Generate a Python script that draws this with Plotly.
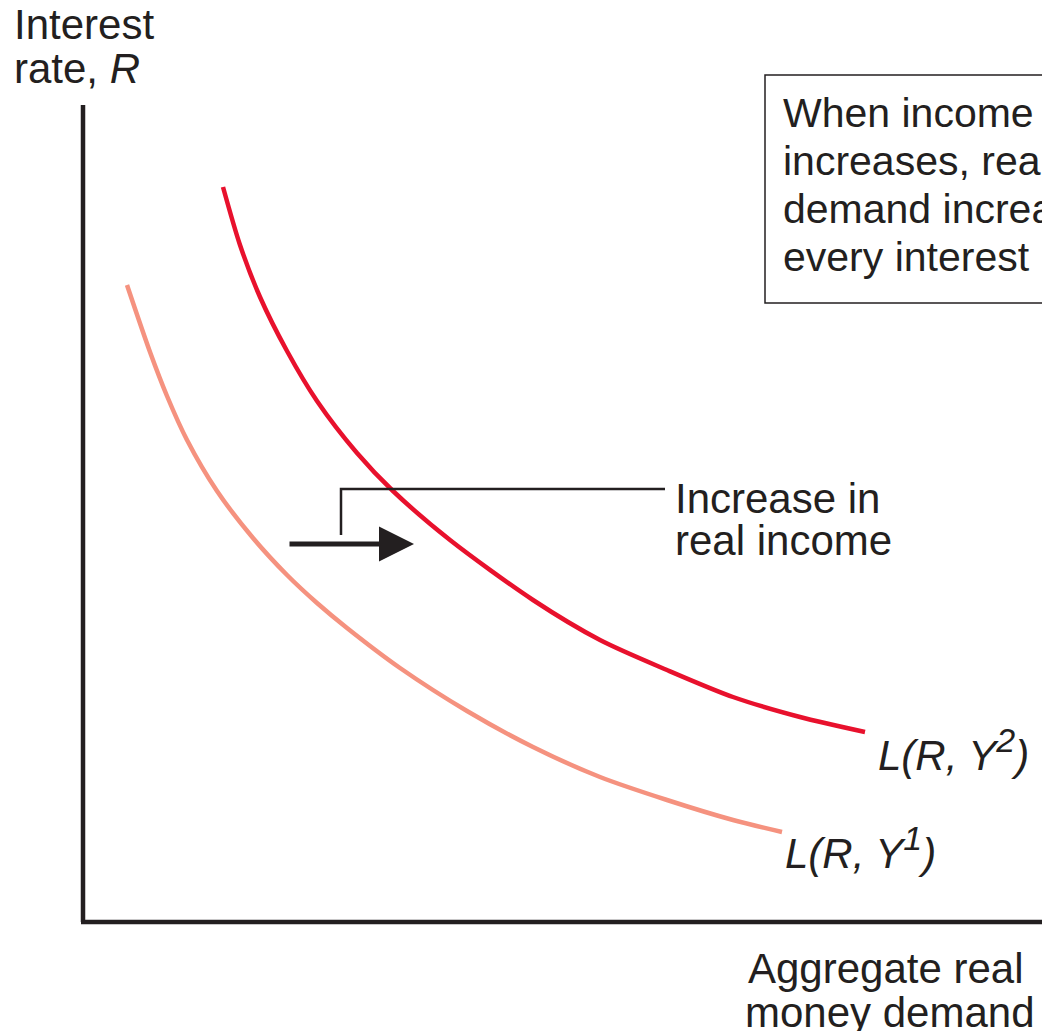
import plotly.graph_objects as go

# Data (diagram units: x = real money demand, y = interest rate, origin at axes corner)
y2_demand = [140, 157, 177, 204, 234, 274, 310, 367, 450, 517, 584, 650, 717, 782]
y2_rate = [735, 677, 625, 571, 521, 469, 431, 382, 322, 282, 252, 225, 205, 190]

y1_demand = [44, 67, 84, 104, 134, 170, 204, 234, 264, 317, 384, 450, 517, 584, 650, 699]
y1_rate = [637, 570, 526, 482, 431, 384, 347, 319, 294, 254, 211, 175, 145, 122, 102, 90]

box_lines = ["When income", "increases, real money", "demand increases at", "every interest rate."]

FONT = "Liberation Sans, Arial, sans-serif"
INK = "#231f20"
RED = "#e8112d"
SALMON = "#f5927f"

fig = go.Figure()
fig.add_trace(go.Scatter(x=y1_demand, y=y1_rate, mode="lines",
                         line=dict(color=SALMON, width=4.5, shape="spline", smoothing=0.8),
                         hoverinfo="skip", showlegend=False))
fig.add_trace(go.Scatter(x=y2_demand, y=y2_rate, mode="lines",
                         line=dict(color=RED, width=4.5, shape="spline", smoothing=0.8),
                         hoverinfo="skip", showlegend=False))

# bracket leader line
fig.add_trace(go.Scatter(x=[258, 258, 582], y=[387, 433, 433], mode="lines",
                         line=dict(color=INK, width=2.5), hoverinfo="skip", showlegend=False))

shapes = [
    dict(type="line", x0=0, y0=0, x1=0, y1=817, xref="x", yref="y", line=dict(color=INK, width=4.5)),
    dict(type="line", x0=-2, y0=0, x1=960, y1=0, xref="x", yref="y", line=dict(color=INK, width=4.5)),
    dict(type="rect", x0=682, y0=619, x1=1100, y1=847, xref="x", yref="y",
         line=dict(color=INK, width=1.5), fillcolor="rgba(0,0,0,0)"),
]

ann = []
def txt(x, y, s, size=42):
    ann.append(dict(x=x, y=y, xref="x", yref="y", text=s, showarrow=False,
                    xanchor="left", yanchor="middle", align="left",
                    font=dict(family=FONT, size=size, color=INK)))

txt(-71, 898, "Interest")
txt(-71, 854, "rate, <i>R</i>")
for i, s in enumerate(box_lines):
    txt(698, 809 - i * 48, s, size=41)
txt(590, 424, "Increase in")
txt(590, 382, "real income")
txt(793, 172, "<i>L(R, Y<sup><span style='font-size:34px'>2</span></sup>)</i>")
txt(700, 74, "<i>L(R, Y<sup><span style='font-size:34px'>1</span></sup>)</i>")
txt(663, -46, "Aggregate real")
txt(660, -90, "money demand")

# arrow
ann.append(dict(x=331, y=378, ax=205, ay=378, xref="x", yref="y", axref="x", ayref="y",
                text="", showarrow=True, arrowhead=2, arrowsize=1.4, arrowwidth=5,
                arrowcolor=INK))

fig.update_layout(
    width=1050, height=1031,
    margin=dict(l=0, r=0, t=0, b=0),
    paper_bgcolor="white", plot_bgcolor="white",
    xaxis=dict(range=[-75, 975], visible=False, fixedrange=True),
    yaxis=dict(range=[-117, 914], visible=False, fixedrange=True),
    shapes=shapes, annotations=ann,
)
fig.write_html("out.html")
